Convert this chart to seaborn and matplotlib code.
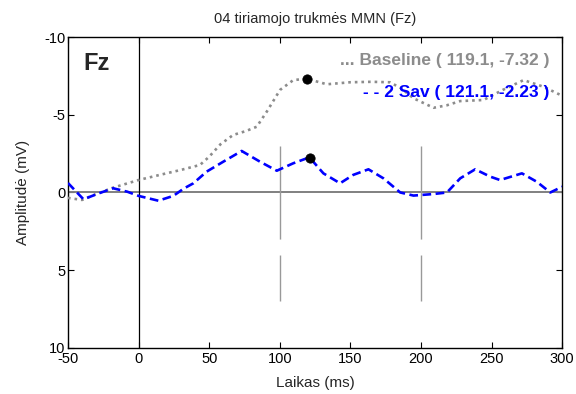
import numpy as np
import pandas as pd
import matplotlib
matplotlib.use("Agg")
import matplotlib.pyplot as plt
import seaborn as sns

# ---- data ----
t_sav = [-50, -39, -28, -18, -8, 0, 14, 24.6, 32, 38.8, 48.2, 60, 73, 86, 97.9, 109.6, 121,
         130.9, 142.7, 152, 162.8, 173.4, 185.3, 194.7, 208.9, 218.4, 227.8, 238.4, 249, 256,
         271.5, 282, 291.6, 300]
v_sav = [-0.61, 0.44, 0.05, -0.27, -0.05, 0.22, 0.53, 0.22, -0.25, -0.59, -1.34, -1.98, -2.67,
         -1.98, -1.40, -1.88, -2.26, -1.23, -0.59, -1.13, -1.49, -0.91, 0.0, 0.2, 0.1, 0.0,
         -0.91, -1.49, -1.02, -0.8, -1.23, -0.69, 0.0, -0.37]

t_base = [-50, -40, -30, -18, 0, 15, 30, 43.5, 50, 58, 67, 76, 83.7, 90.8, 100.2, 109.6, 119.1,
          133.3, 149.8, 165, 178, 186, 194.7, 208.9, 218, 227.8, 244.3, 258, 272.7, 286.8, 300]
v_base = [0.35, 0.48, 0.1, -0.31, -0.8, -1.13, -1.45, -1.77, -2.3, -3.1, -3.7, -3.95, -4.23,
          -5.2, -6.6, -7.23, -7.32, -6.96, -7.09, -7.12, -7.09, -6.7, -6.06, -5.45, -5.6,
          -5.88, -5.95, -6.6, -7.23, -6.8, -6.22]

peak_t = [119.1, 121.1]
peak_v = [-7.32, -2.23]

series_names = ["Baseline", "2 Sav"]
legend_texts = ["... Baseline ( 119.1, -7.32 )", "- - 2 Sav ( 121.1, -2.23 )"]
x_ticks = [-50, 0, 50, 100, 150, 200, 250, 300]
y_ticks = [-10, -5, 0, 5, 10]
marker_lines_t = [100, 200]

df = pd.concat([
    pd.DataFrame({"t": t_base, "v": v_base, "cond": series_names[0]}),
    pd.DataFrame({"t": t_sav, "v": v_sav, "cond": series_names[1]}),
])

sns.set_style("ticks")
plt.rcParams["font.family"] = ["Liberation Sans", "DejaVu Sans"]
plt.rcParams["axes.unicode_minus"] = False

fig = plt.figure(figsize=(5.76, 3.94), dpi=100)
ax = fig.add_axes([0.118, 0.117, 0.858, 0.789])

# reference lines
ax.axhline(0, color="#808080", lw=1.4, zorder=1)
ax.axvline(0, color="black", lw=0.9, zorder=1)
for mt in marker_lines_t:
    ax.plot([mt, mt], [-3, 7], color="#999999", lw=1.0, dashes=(67, 11.5), zorder=1)

sns.lineplot(data=df, x="t", y="v", hue="cond", style="cond",
             palette={series_names[0]: "#8c8c8c", series_names[1]: "#0000ff"},
             dashes={series_names[0]: (1, 1.5), series_names[1]: (3.3, 1.7)},
             linewidth=1.9, legend=False, sort=False, ax=ax, zorder=3)

sns.scatterplot(x=peak_t, y=peak_v, color="black", s=45, zorder=5, ax=ax, edgecolor="black")

ax.set_xlim(-50, 300)
ax.set_ylim(10, -10)
ax.set_xticks(x_ticks)
ax.set_yticks(y_ticks)
ax.tick_params(direction="in", length=4, width=0.8, top=True, right=True,
               labelsize=10.5, colors="black")
ax.tick_params(axis="x", pad=3)
ax.tick_params(axis="y", pad=2)
for s in ax.spines.values():
    s.set_color("black")
    s.set_linewidth(1.0)
    s.set_visible(True)

ax.set_xlabel("Laikas (ms)", fontsize=11, labelpad=7)
ax.set_ylabel("Amplitudė (mV)", fontsize=11, labelpad=10)
ax.set_title("04 tiriamojo trukmės MMN (Fz)", fontsize=10.5, pad=10)

ax.text(0.032, 0.915, "Fz", transform=ax.transAxes, fontsize=17, fontweight="bold",
        ha="left", va="center")
ax.text(0.975, 0.924, legend_texts[0], transform=ax.transAxes, fontsize=12.5,
        fontweight="bold", color="#8c8c8c", ha="right", va="center")
ax.text(0.975, 0.82, legend_texts[1], transform=ax.transAxes, fontsize=12.5,
        fontweight="bold", color="#0000ff", ha="right", va="center")

fig.savefig("out.png", dpi=100)
